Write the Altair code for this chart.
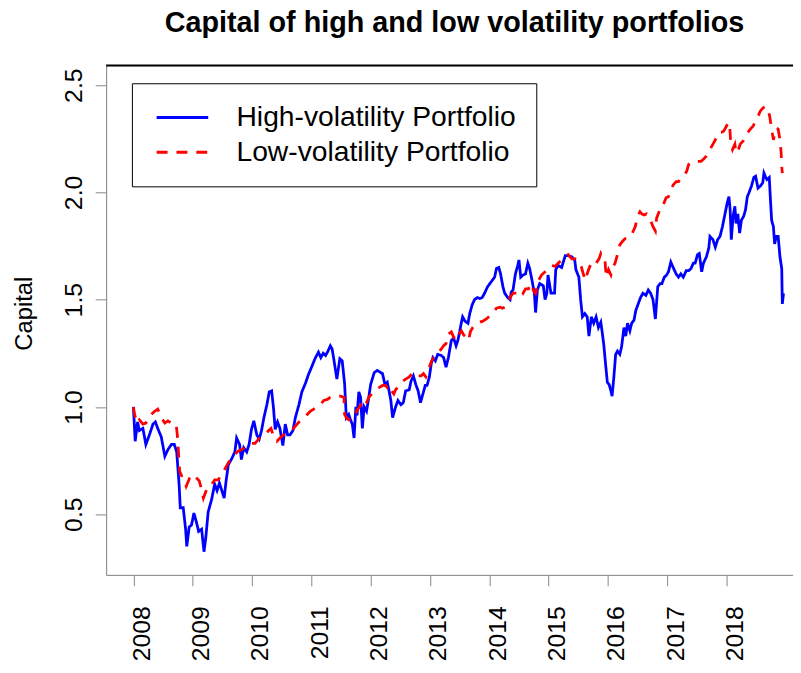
import altair as alt
import pandas as pd

title_text = "Capital of high and low volatility portfolios"
series_names = ["High-volatility Portfolio", "Low-volatility Portfolio"]
x_ticks = list(range(2008, 2019))
y_ticks = [0.5, 1.0, 1.5, 2.0, 2.5]

hv_year = [2008.00, 2008.03, 2008.07, 2008.10, 2008.16, 2008.21, 2008.27, 2008.33, 2008.37, 2008.41,
           2008.47, 2008.53, 2008.58, 2008.64, 2008.69, 2008.73, 2008.77, 2008.79, 2008.84, 2008.88,
           2008.90, 2008.94, 2008.98, 2009.02, 2009.06, 2009.10, 2009.15, 2009.19, 2009.22, 2009.26,
           2009.32, 2009.37, 2009.41, 2009.45, 2009.49, 2009.53, 2009.56, 2009.60, 2009.66, 2009.71,
           2009.74, 2009.79, 2009.82, 2009.86, 2009.91, 2009.95, 2009.99, 2010.03, 2010.08, 2010.12,
           2010.16, 2010.20, 2010.25, 2010.29, 2010.33, 2010.36, 2010.39, 2010.43, 2010.47, 2010.52,
           2010.56, 2010.60, 2010.64, 2010.69, 2010.73, 2010.79, 2010.84, 2010.90, 2010.95, 2011.01,
           2011.07, 2011.12, 2011.16, 2011.20, 2011.24, 2011.28, 2011.32, 2011.35, 2011.38, 2011.43,
           2011.48, 2011.52, 2011.56, 2011.59, 2011.63, 2011.66, 2011.69, 2011.72, 2011.75, 2011.77,
           2011.80, 2011.83, 2011.86, 2011.89, 2011.93, 2011.96, 2012.00, 2012.06, 2012.11, 2012.20,
           2012.24, 2012.28, 2012.31, 2012.34, 2012.37, 2012.40, 2012.42, 2012.46, 2012.51, 2012.55,
           2012.59, 2012.65, 2012.68, 2012.72, 2012.76, 2012.80, 2012.84, 2012.88, 2012.92, 2012.95,
           2012.99, 2013.02, 2013.05, 2013.09, 2013.13, 2013.19, 2013.23, 2013.27, 2013.31, 2013.36,
           2013.40, 2013.44, 2013.47, 2013.50, 2013.53, 2013.55, 2013.59, 2013.64, 2013.67, 2013.71,
           2013.75, 2013.80, 2013.84, 2013.88, 2013.92, 2013.97, 2014.01, 2014.05, 2014.09, 2014.12,
           2014.16, 2014.19, 2014.23, 2014.26, 2014.31, 2014.35, 2014.37, 2014.40, 2014.44, 2014.48,
           2014.50, 2014.53, 2014.57, 2014.61, 2014.65, 2014.68, 2014.72, 2014.76, 2014.78, 2014.81,
           2014.85, 2014.91, 2014.94, 2014.97, 2014.99, 2015.04, 2015.10, 2015.12, 2015.16, 2015.22,
           2015.28, 2015.33, 2015.39, 2015.44, 2015.46, 2015.51, 2015.54, 2015.57, 2015.61, 2015.65,
           2015.68, 2015.72, 2015.76, 2015.80, 2015.84, 2015.88, 2015.90, 2015.93, 2015.96, 2015.99,
           2016.02, 2016.05, 2016.07, 2016.10, 2016.13, 2016.16, 2016.20, 2016.23, 2016.27, 2016.30,
           2016.33, 2016.37, 2016.40, 2016.44, 2016.47, 2016.51, 2016.55, 2016.59, 2016.64, 2016.68,
           2016.72, 2016.76, 2016.80, 2016.84, 2016.88, 2016.91, 2016.95, 2016.99, 2017.02, 2017.06,
           2017.10, 2017.15, 2017.19, 2017.23, 2017.27, 2017.32, 2017.36, 2017.40, 2017.44, 2017.47,
           2017.51, 2017.54, 2017.58, 2017.61, 2017.66, 2017.70, 2017.72, 2017.77, 2017.81, 2017.85,
           2017.89, 2017.93, 2017.97, 2018.01, 2018.04, 2018.06, 2018.08, 2018.11, 2018.14, 2018.16,
           2018.19, 2018.22, 2018.25, 2018.29, 2018.32, 2018.35, 2018.38, 2018.42, 2018.46, 2018.49,
           2018.53, 2018.57, 2018.61, 2018.63, 2018.66, 2018.68, 2018.72, 2018.74, 2018.76, 2018.79,
           2018.81, 2018.84, 2018.87, 2018.90, 2018.93, 2018.94, 2018.96]
hv_value = [1.00, 0.84, 0.93, 0.89, 0.90, 0.825, 0.87, 0.92, 0.93, 0.90,
            0.86, 0.77, 0.80, 0.825, 0.825, 0.79, 0.64, 0.53, 0.53, 0.43,
            0.35, 0.44, 0.45, 0.505, 0.465, 0.42, 0.43, 0.325, 0.39, 0.51,
            0.57, 0.64, 0.61, 0.645, 0.61, 0.575, 0.65, 0.73, 0.76, 0.79,
            0.855, 0.825, 0.755, 0.81, 0.79, 0.825, 0.895, 0.935, 0.87, 0.85,
            0.89, 0.95, 1.01, 1.07, 1.075, 1.00, 0.895, 0.93, 0.90, 0.82,
            0.92, 0.87, 0.87, 0.89, 0.95, 1.01, 1.07, 1.11, 1.15, 1.19,
            1.23, 1.255, 1.23, 1.25, 1.24, 1.26, 1.285, 1.27, 1.22, 1.13,
            1.225, 1.215, 1.11, 0.95, 0.965, 0.94, 0.92, 0.855, 1.00, 0.96,
            1.07, 1.045, 0.90, 1.00, 0.98, 1.03, 1.105, 1.16, 1.17, 1.155,
            1.105, 1.115, 1.075, 1.03, 0.95, 0.98, 1.00, 1.03, 1.01, 1.02,
            1.075, 1.08, 1.12, 1.145, 1.105, 1.075, 1.02, 1.06, 1.10, 1.10,
            1.14, 1.20, 1.23, 1.215, 1.245, 1.24, 1.23, 1.185, 1.23, 1.31,
            1.32, 1.285, 1.31, 1.35, 1.395, 1.42, 1.40, 1.39, 1.435, 1.475,
            1.50, 1.51, 1.505, 1.51, 1.53, 1.56, 1.575, 1.59, 1.605, 1.645,
            1.65, 1.62, 1.56, 1.53, 1.51, 1.50, 1.535, 1.545, 1.62, 1.66,
            1.685, 1.605, 1.615, 1.62, 1.67, 1.645, 1.59, 1.53, 1.44, 1.545,
            1.575, 1.565, 1.50, 1.53, 1.615, 1.53, 1.53, 1.64, 1.66, 1.65,
            1.705, 1.705, 1.70, 1.685, 1.64, 1.605, 1.50, 1.42, 1.435, 1.42,
            1.33, 1.42, 1.39, 1.42, 1.37, 1.395, 1.355, 1.29, 1.20, 1.115,
            1.105, 1.075, 1.05, 1.14, 1.245, 1.26, 1.245, 1.28, 1.37, 1.33,
            1.39, 1.355, 1.39, 1.405, 1.45, 1.48, 1.51, 1.53, 1.52, 1.545,
            1.53, 1.50, 1.41, 1.56, 1.575, 1.575, 1.605, 1.615, 1.63, 1.675,
            1.65, 1.62, 1.605, 1.62, 1.605, 1.635, 1.635, 1.645, 1.67, 1.67,
            1.71, 1.715, 1.63, 1.67, 1.70, 1.74, 1.795, 1.78, 1.745, 1.78,
            1.795, 1.84, 1.895, 1.95, 1.98, 1.92, 1.78, 1.89, 1.935, 1.855,
            1.90, 1.81, 1.87, 1.89, 1.92, 1.98, 2.00, 2.03, 2.07, 2.075,
            2.02, 2.03, 2.045, 2.09, 2.07, 2.06, 2.07, 1.965, 1.87, 1.84,
            1.76, 1.795, 1.795, 1.70, 1.645, 1.48, 1.53]

lv_year = [2008.00, 2008.02, 2008.06, 2008.10, 2008.16, 2008.21, 2008.26, 2008.30, 2008.36, 2008.41,
           2008.47, 2008.53, 2008.58, 2008.64, 2008.69, 2008.72, 2008.74, 2008.76, 2008.78, 2008.81,
           2008.84, 2008.86, 2008.89, 2008.95, 2009.01, 2009.06, 2009.11, 2009.15, 2009.18, 2009.22,
           2009.26, 2009.32, 2009.37, 2009.43, 2009.49, 2009.54, 2009.60, 2009.66, 2009.71, 2009.77,
           2009.82, 2009.88, 2009.94, 2009.99, 2010.05, 2010.11, 2010.16, 2010.22, 2010.28, 2010.32,
           2010.36, 2010.42, 2010.47, 2010.53, 2010.59, 2010.64, 2010.70, 2010.76, 2010.81, 2010.87,
           2010.93, 2010.98, 2011.04, 2011.10, 2011.15, 2011.21, 2011.27, 2011.32, 2011.38, 2011.44,
           2011.49, 2011.55, 2011.56, 2011.59, 2011.63, 2011.67, 2011.72, 2011.76, 2011.80, 2011.84,
           2011.89, 2011.93, 2011.97, 2012.03, 2012.09, 2012.14, 2012.20, 2012.25, 2012.28, 2012.31,
           2012.35, 2012.39, 2012.42, 2012.48, 2012.54, 2012.59, 2012.65, 2012.71, 2012.75, 2012.79,
           2012.85, 2012.89, 2012.93, 2012.97, 2013.02, 2013.06, 2013.10, 2013.14, 2013.19, 2013.23,
           2013.27, 2013.31, 2013.36, 2013.40, 2013.44, 2013.48, 2013.53, 2013.57, 2013.61, 2013.65,
           2013.68, 2013.72, 2013.78, 2013.84, 2013.89, 2013.95, 2014.01, 2014.06, 2014.12, 2014.18,
           2014.22, 2014.26, 2014.31, 2014.35, 2014.40, 2014.44, 2014.49, 2014.53, 2014.57, 2014.61,
           2014.66, 2014.70, 2014.74, 2014.78, 2014.83, 2014.88, 2014.94, 2014.99, 2015.05, 2015.11,
           2015.16, 2015.22, 2015.28, 2015.33, 2015.39, 2015.45, 2015.51, 2015.55, 2015.59, 2015.62,
           2015.65, 2015.68, 2015.72, 2015.76, 2015.80, 2015.85, 2015.88, 2015.92, 2015.95, 2015.97,
           2016.01, 2016.05, 2016.09, 2016.12, 2016.16, 2016.20, 2016.24, 2016.29, 2016.33, 2016.37,
           2016.41, 2016.46, 2016.50, 2016.54, 2016.57, 2016.61, 2016.65, 2016.70, 2016.72, 2016.76,
           2016.80, 2016.82, 2016.85, 2016.89, 2016.93, 2016.98, 2017.02, 2017.06, 2017.10, 2017.15,
           2017.19, 2017.23, 2017.29, 2017.33, 2017.36, 2017.40, 2017.44, 2017.49, 2017.53, 2017.57,
           2017.61, 2017.66, 2017.70, 2017.74, 2017.78, 2017.83, 2017.87, 2017.91, 2017.95, 2017.98,
           2018.02, 2018.05, 2018.07, 2018.10, 2018.14, 2018.16, 2018.19, 2018.23, 2018.28, 2018.32,
           2018.36, 2018.40, 2018.45, 2018.49, 2018.53, 2018.57, 2018.62, 2018.66, 2018.70, 2018.73,
           2018.76, 2018.79, 2018.81, 2018.84, 2018.87, 2018.90, 2018.92, 2018.93, 2018.94]
lv_value = [1.00, 0.965, 0.925, 0.94, 0.92, 0.925, 0.95, 0.965, 0.98, 0.99,
            0.95, 0.925, 0.935, 0.925, 0.925, 0.92, 0.87, 0.79, 0.70, 0.68,
            0.66, 0.655, 0.63, 0.67, 0.685, 0.67, 0.655, 0.615, 0.575, 0.605,
            0.63, 0.64, 0.66, 0.66, 0.685, 0.71, 0.74, 0.76, 0.78, 0.795,
            0.80, 0.81, 0.825, 0.83, 0.83, 0.85, 0.865, 0.87, 0.89, 0.90,
            0.865, 0.84, 0.855, 0.87, 0.88, 0.89, 0.90, 0.92, 0.935, 0.95,
            0.965, 0.98, 0.99, 1.005, 1.01, 1.03, 1.035, 1.045, 1.05, 1.05,
            1.05, 1.045, 0.965, 0.95, 0.94, 0.94, 0.95, 0.98, 0.995, 1.01,
            0.995, 1.02, 1.045, 1.065, 1.08, 1.09, 1.10, 1.10, 1.09, 1.10,
            1.075, 1.06, 1.08, 1.10, 1.12, 1.13, 1.14, 1.16, 1.155, 1.145,
            1.145, 1.155, 1.14, 1.17, 1.21, 1.23, 1.245, 1.255, 1.27, 1.285,
            1.295, 1.34, 1.35, 1.325, 1.31, 1.335, 1.355, 1.335, 1.325, 1.31,
            1.35, 1.37, 1.39, 1.395, 1.40, 1.41, 1.425, 1.44, 1.46, 1.465,
            1.46, 1.465, 1.48, 1.51, 1.53, 1.53, 1.53, 1.545, 1.53, 1.55,
            1.55, 1.575, 1.545, 1.53, 1.59, 1.615, 1.63, 1.645, 1.66, 1.655,
            1.67, 1.685, 1.70, 1.71, 1.69, 1.69, 1.675, 1.655, 1.615, 1.59,
            1.62, 1.645, 1.67, 1.66, 1.67, 1.69, 1.715, 1.69, 1.685, 1.605,
            1.64, 1.615, 1.655, 1.67, 1.71, 1.755, 1.77, 1.785, 1.785, 1.795,
            1.81, 1.84, 1.89, 1.91, 1.90, 1.895, 1.90, 1.88, 1.87, 1.84,
            1.82, 1.88, 1.90, 1.935, 1.94, 1.975, 1.98, 2.01, 2.035, 2.05,
            2.05, 2.065, 2.08, 2.10, 2.13, 2.14, 2.14, 2.145, 2.145, 2.145,
            2.155, 2.17, 2.19, 2.21, 2.23, 2.255, 2.28, 2.28, 2.285, 2.30,
            2.32, 2.325, 2.23, 2.20, 2.225, 2.185, 2.19, 2.225, 2.24, 2.26,
            2.28, 2.295, 2.31, 2.335, 2.355, 2.38, 2.395, 2.40, 2.39, 2.35,
            2.295, 2.245, 2.27, 2.30, 2.295, 2.245, 2.185, 2.12, 2.09]

df = pd.concat([
    pd.DataFrame({"year": hv_year, "capital": hv_value, "series": series_names[0]}),
    pd.DataFrame({"year": lv_year, "capital": lv_value, "series": series_names[1]}),
], ignore_index=True)

W, H = 693, 514
FONT = "Liberation Sans"

legend = alt.Legend(
    title=None, orient="none", legendX=26, legendY=18, direction="vertical",
    symbolType="M-2,0L2,0", symbolSize=676, symbolStrokeWidth=3,
    symbolOffset=16.5, labelOffset=40, labelFontSize=28.5, labelFont=FONT,
    labelColor="black", labelLimit=600, rowPadding=6, padding=20,
    strokeColor="black", fillColor="white",
)

lines = alt.Chart(df).mark_line(strokeWidth=2.8, clip=True).encode(
    x=alt.X("year:Q",
            scale=alt.Scale(domain=[2007.54, 2019.12], nice=False, zero=False),
            axis=alt.Axis(values=x_ticks, format="d", labelAngle=270, labelAlign="right",
                          labelBaseline="alphabetic", labelOffset=16, labelPadding=20,
                          tickSize=11, title=None, grid=False, labelFontSize=25,
                          labelFont=FONT)),
    y=alt.Y("capital:Q",
            scale=alt.Scale(domain=[0.217, 2.592], nice=False, zero=False),
            axis=alt.Axis(values=y_ticks, format=".1f", labelAngle=270, labelAlign="center",
                          labelBaseline="alphabetic", labelPadding=14, tickSize=11,
                          grid=False, labelFontSize=25, labelFont=FONT,
                          title="Capital", titleAngle=270, titleX=-75, titleY=250,
                          titleAlign="center", titleBaseline="alphabetic",
                          titleFontSize=24, titleFont=FONT, titleFontWeight="normal")),
    color=alt.Color("series:N",
                    scale=alt.Scale(domain=series_names, range=["#0000FF", "#FF0000"]),
                    legend=legend),
    strokeDash=alt.StrokeDash("series:N",
                              scale=alt.Scale(domain=series_names, range=[[1, 0], [11, 9]]),
                              legend=legend),
)

frame_src = pd.DataFrame({"k": [0]})

top_border = alt.Chart(frame_src).mark_rule(color="black", strokeWidth=2).encode(
    x=alt.value(0), x2=alt.value(W), y=alt.value(0)
)

title_mark = alt.Chart(frame_src).mark_text(
    font=FONT, fontSize=29, fontWeight="bold", align="center", baseline="alphabetic",
    color="black",
).encode(x=alt.value(W / 2 + 5), y=alt.value(-33.5), text=alt.value(title_text))

chart = alt.layer(lines, top_border, title_mark).properties(
    width=W, height=H,
    autosize=alt.AutoSizeParams(type="none"),
    padding={"left": 99, "top": 55, "right": 0, "bottom": 90},
).configure_view(stroke=None).configure_axis(
    domainColor="black", domainWidth=2, tickColor="black", tickWidth=1.5,
    labelColor="black", titleColor="black",
).configure_legend(strokeWidth=2).configure(background="white")

chart.save("out.html", embed_options={"renderer": "svg", "actions": False})
